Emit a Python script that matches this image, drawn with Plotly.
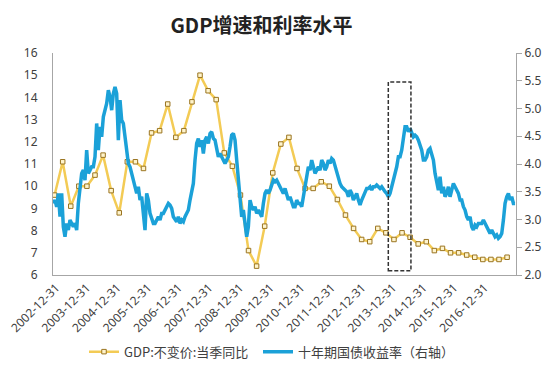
import plotly.graph_objects as go

# ---------------- data ----------------
# GDP constant price, quarterly yoy (%), 2002Q4 .. 2016Q4 (index 0 = 2002Q4)
gdp_quarter = list(range(57))
gdp_yoy = [9.6,
           11.1, 9.1, 10.0, 10.0,
           10.5, 11.4, 9.8, 8.8,
           11.1, 11.1, 10.8, 12.4,
           12.5, 13.7, 12.2, 12.5,
           13.8, 15.0, 14.3, 13.9,
           11.5, 10.9, 9.6, 7.1,
           6.4, 8.2, 10.6, 11.9,
           12.2, 10.8, 9.9, 9.9,
           10.2, 10.0, 9.4, 8.7,
           8.1, 7.6, 7.5, 8.1,
           7.9, 7.6, 7.9, 7.7,
           7.4, 7.5, 7.1, 7.2,
           7.0, 7.0, 6.9, 6.8,
           6.7, 6.7, 6.7, 6.8]

# 10-year government bond yield (%), sampled on a regular grid (~every 19 days)
bond_start = -0.157   # in quarters relative to 2002Q4
bond_step = 0.2063    # quarters between samples
bond_yield = [
    3.29, 3.35, 3.23, 3.47, 3.05, 3.47, 2.87, 2.69, 2.93, 2.81,
    2.99, 2.93, 2.87, 2.93, 2.81, 3.29, 3.59, 3.83, 3.89, 3.71,
    4.25, 3.83, 3.89, 3.95, 3.95, 4.13, 4.73, 4.25, 4.67, 4.49,
    4.85, 4.97, 5.09, 5.33, 5.21, 4.97, 5.27, 5.39, 5.27, 4.43,
    5.15, 4.79, 4.73, 4.49, 4.19, 4.01, 3.95, 3.83, 3.65, 3.53,
    3.47, 3.59, 3.35, 3.41, 3.17, 2.81, 3.47, 3.35, 3.11, 2.99,
    2.93, 2.93, 2.99, 3.05, 2.99, 3.11, 3.11, 3.17, 3.23, 3.29,
    3.26, 3.20, 3.05, 2.99,
    2.96, 3.05, 2.93, 2.99, 2.96, 3.05, 3.11, 3.17, 3.35, 3.47,
    3.65, 4.07, 4.37, 4.46, 4.31, 4.43, 4.19, 4.43, 4.49, 4.37,
    4.55, 4.58, 4.46, 4.43, 4.25, 4.13, 4.19, 4.13, 4.07, 4.01,
    4.07, 4.13, 4.31, 4.52, 4.55, 4.43, 4.07, 3.77, 3.35, 3.05,
    3.17, 2.93, 2.69, 2.87, 3.35, 3.23, 3.17, 3.23, 3.11, 3.17,
    3.11, 3.05, 3.29, 3.47, 3.53, 3.47, 3.53, 3.65, 3.71, 3.68,
    3.71, 3.65, 3.59, 3.53, 3.47, 3.56, 3.47, 3.35, 3.41, 3.29,
    3.23, 3.23, 3.35, 3.29, 3.29,
    3.23, 3.41, 3.53, 3.77, 3.95, 3.89, 4.07, 3.95, 3.83, 3.89,
    3.95, 3.89, 4.07, 4.01, 3.89, 3.95, 4.07, 4.01, 4.10, 4.07,
    3.95, 3.83, 3.77, 3.65, 3.59, 3.56, 3.53, 3.50, 3.41, 3.53,
    3.47, 3.35, 3.41, 3.47, 3.35, 3.26, 3.35, 3.41, 3.47, 3.56,
    3.56, 3.59, 3.53, 3.59, 3.59, 3.62, 3.59, 3.56, 3.59, 3.53,
    3.50, 3.47, 3.41, 3.47, 3.59, 3.65, 3.77, 3.95, 4.13, 4.13,
    4.25, 4.43, 4.67,
    4.67, 4.58, 4.64, 4.55, 4.49, 4.52, 4.49, 4.43, 4.34, 4.25,
    4.07, 4.07, 4.13, 4.25, 4.28, 4.19, 4.07, 3.83, 3.71, 3.53,
    3.77, 3.47, 3.59, 3.41, 3.47, 3.59, 3.41, 3.53, 3.65, 3.59,
    3.53, 3.47, 3.35, 3.35, 3.23, 3.17, 3.05, 2.99, 3.05, 2.87,
    2.81, 2.90, 2.87, 2.93, 2.93, 2.93, 2.99, 2.93, 2.87, 2.81,
    2.75, 2.81, 2.75, 2.69, 2.72, 2.66, 2.69, 2.75, 2.99, 3.29,
    3.41, 3.47, 3.35, 3.41, 3.29, 3.29,
]
bond_t = [bond_start + i * bond_step for i in range(len(bond_yield))]

tick_labels = ["2002-12-31", "2003-12-31", "2004-12-31", "2005-12-31",
               "2006-12-31", "2007-12-31", "2008-12-31", "2009-12-31",
               "2010-12-31", "2011-12-31", "2012-12-31", "2013-12-31",
               "2014-12-31", "2015-12-31", "2016-12-31"]
label_spacing = 3.787
tick_vals = [0.2 + i * label_spacing for i in range(len(tick_labels))]

gdp_name = "GDP:不变价:当季同比"
bond_name = "十年期国债收益率（右轴）"

# ---------------- figure ----------------
fig = go.Figure()
fig.add_trace(go.Scatter(
    x=gdp_quarter, y=gdp_yoy, name=gdp_name, mode="lines+markers",
    line=dict(color="#F3CB55", width=2.5),
    marker=dict(symbol="square", size=4.5, color="#FFF4CC",
                line=dict(color="#9A7420", width=1)),
    yaxis="y", legend="legend",
))
fig.add_trace(go.Scatter(
    x=bond_t, y=bond_yield, name=bond_name, mode="lines",
    line=dict(color="#1BA1D8", width=3.5),
    yaxis="y2", legend="legend2",
))

fig.add_shape(type="rect", xref="x", yref="y",
              x0=41.3, x1=44.1, y0=6.19, y1=14.69,
              line=dict(color="#333333", width=1.5, dash="4px,2px"))

axis_gray = "#A6A6A6"
tick_font = dict(family="Noto Sans, DejaVu Sans, sans-serif", size=12, color="#404040")
legend_font = dict(family="Noto Sans CJK SC, sans-serif", size=13, color="#404040")

fig.update_layout(
    width=550, height=365,
    margin=dict(l=53, r=34, t=53, b=90, autoexpand=False),
    paper_bgcolor="white", plot_bgcolor="white",
    title=dict(text="<b>GDP增速和利率水平</b>", x=261.5 / 550, xanchor="center",
               xref="container", y=1 - 26 / 365, yanchor="middle", yref="container",
               font=dict(family="Noto Sans CJK SC, sans-serif", size=20, color="#222222")),
    xaxis=dict(range=[-0.198, 57.104], tickvals=tick_vals, ticktext=tick_labels,
               tickangle=-45, showgrid=False, zeroline=False, automargin=False,
               showline=True, linecolor=axis_gray, linewidth=1, ticks="",
               tickfont=dict(family="Noto Sans, DejaVu Sans, sans-serif", size=12, color="#404040")),
    yaxis=dict(range=[6, 16], dtick=1, showgrid=False, zeroline=False, automargin=False,
               showline=True, linecolor=axis_gray, linewidth=1, ticks="",
               ticklabelstandoff=12, tickfont=tick_font),
    yaxis2=dict(range=[2, 6], dtick=0.5, tickformat=".1f", overlaying="y", side="right",
                showgrid=False, zeroline=False, showline=True, linecolor=axis_gray,
                linewidth=1, ticks="outside", ticklen=5, tickcolor=axis_gray,
                automargin=False, tickfont=tick_font),
    legend=dict(orientation="h", xref="container", yref="container",
                x=84 / 550, y=1 - 351.7 / 365, xanchor="left", yanchor="middle",
                font=legend_font, bgcolor="rgba(0,0,0,0)"),
    legend2=dict(orientation="h", xref="container", yref="container",
                 x=258 / 550, y=1 - 351.7 / 365, xanchor="left", yanchor="middle",
                 font=legend_font, bgcolor="rgba(0,0,0,0)"),
    showlegend=True,
)

fig.write_html("out.html", config={"displayModeBar": False},
               post_script="document.body.style.margin='0';document.body.style.overflow='hidden';")
